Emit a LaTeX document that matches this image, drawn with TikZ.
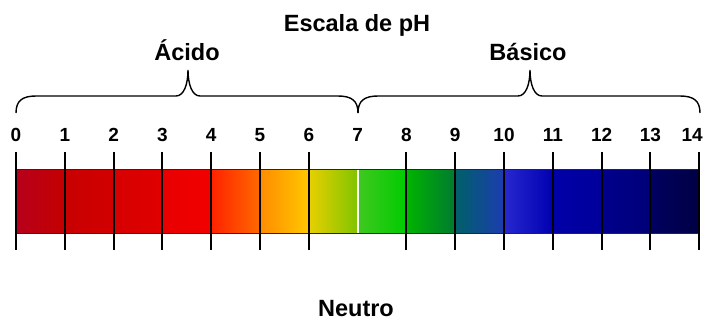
\documentclass[tikz,border=0pt]{standalone}
\usepackage{fontspec}
\setmainfont{Liberation Sans}
\usepackage{xcolor}
\usepackage{tikz}
\usetikzlibrary{positioning}

\definecolor{phA0}{HTML}{B8001C}\definecolor{phB0}{HTML}{C40000}
\definecolor{phA1}{HTML}{C80000}\definecolor{phB1}{HTML}{D20000}
\definecolor{phA2}{HTML}{D60000}\definecolor{phB2}{HTML}{E00000}
\definecolor{phA3}{HTML}{E80000}\definecolor{phB3}{HTML}{F20000}
\definecolor{phA4}{HTML}{FF2200}\definecolor{phB4}{HTML}{FF6A00}
\definecolor{phA5}{HTML}{FF8C00}\definecolor{phB5}{HTML}{FFC800}
\definecolor{phA6}{HTML}{E8D000}\definecolor{phB6}{HTML}{80C400}
\definecolor{phA7}{HTML}{40C820}\definecolor{phB7}{HTML}{00CC00}
\definecolor{phA8}{HTML}{00B400}\definecolor{phB8}{HTML}{007A30}
\definecolor{phA9}{HTML}{006068}\definecolor{phB9}{HTML}{1C3CB0}
\definecolor{phA10}{HTML}{2828D0}\definecolor{phB10}{HTML}{0000B0}
\definecolor{phA11}{HTML}{0000A8}\definecolor{phB11}{HTML}{00009A}
\definecolor{phA12}{HTML}{00008C}\definecolor{phB12}{HTML}{000078}
\definecolor{phA13}{HTML}{000060}\definecolor{phB13}{HTML}{000044}

\begin{document}
\begin{tikzpicture}[
      x=1pt, y=-1pt,
      lbl/.style={font=\fontsize{23.5}{24}\selectfont\bfseries, anchor=base, inner sep=0pt},
      num/.style={font=\fontsize{19}{19}\selectfont\bfseries, anchor=base, inner sep=0pt},
      tickline/.style={line width=2pt},
      brace/.style={line width=1.4pt}
    ]
    \useasboundingbox (0,0) rectangle (705,322);

    % colour bar
    \foreach \i in {0,...,13}
      \shade[left color=phA\i, right color=phB\i] ({16+48.8*\i},169) rectangle ({16+48.8*(\i+1)},233);
    \coordinate (barnw) at (16,169);
    \coordinate (barne) at (700,169);
    \coordinate (barsw) at (16,233);
    \coordinate (barse) at (700,233);
    \draw[line width=1pt, black!85] (barnw) -- (barne);
    \draw[line width=1pt, black!85] (barsw) -- (barse);
    \draw[white, line width=2pt] (357.6,169.5) -- (357.6,232.5);

    % ticks and numbers
    \foreach \i in {0,...,6,8,9,...,14}
      \draw[tickline] ({16+48.8*\i},152) -- ({16+48.8*\i},250);
    \foreach \i in {0,...,13}
      \node[num] (n\i) at ({16+48.8*\i},141) {\i};
    \node[num, anchor=base east] (n14) at (703,141) {14};

    % braces
    \draw[brace] (16,113) .. controls (16,101) and (22,96) .. (36,96) -- (176,96)
      .. controls (184,96) and (188,84) .. (188,70)
      .. controls (188,84) and (192,96) .. (200,96) -- (338,96)
      .. controls (352,96) and (358,101) .. (358,113);
    \draw[brace] (358,113) .. controls (358,101) and (364,96) .. (378,96) -- (518,96)
      .. controls (526,96) and (530,84) .. (530,70)
      .. controls (530,84) and (534,96) .. (542,96) -- (680,96)
      .. controls (694,96) and (700,101) .. (700,113);

    % labels
    \node[lbl] (title) at (357,31) {Escala de pH};
    \node[lbl] (acido) at (187,60) {Ácido};
    \node[lbl] (basico) at (528,60) {Básico};
    \node[lbl] (neutro) at (356,316) {Neutro};
  \end{tikzpicture}
\end{document}
